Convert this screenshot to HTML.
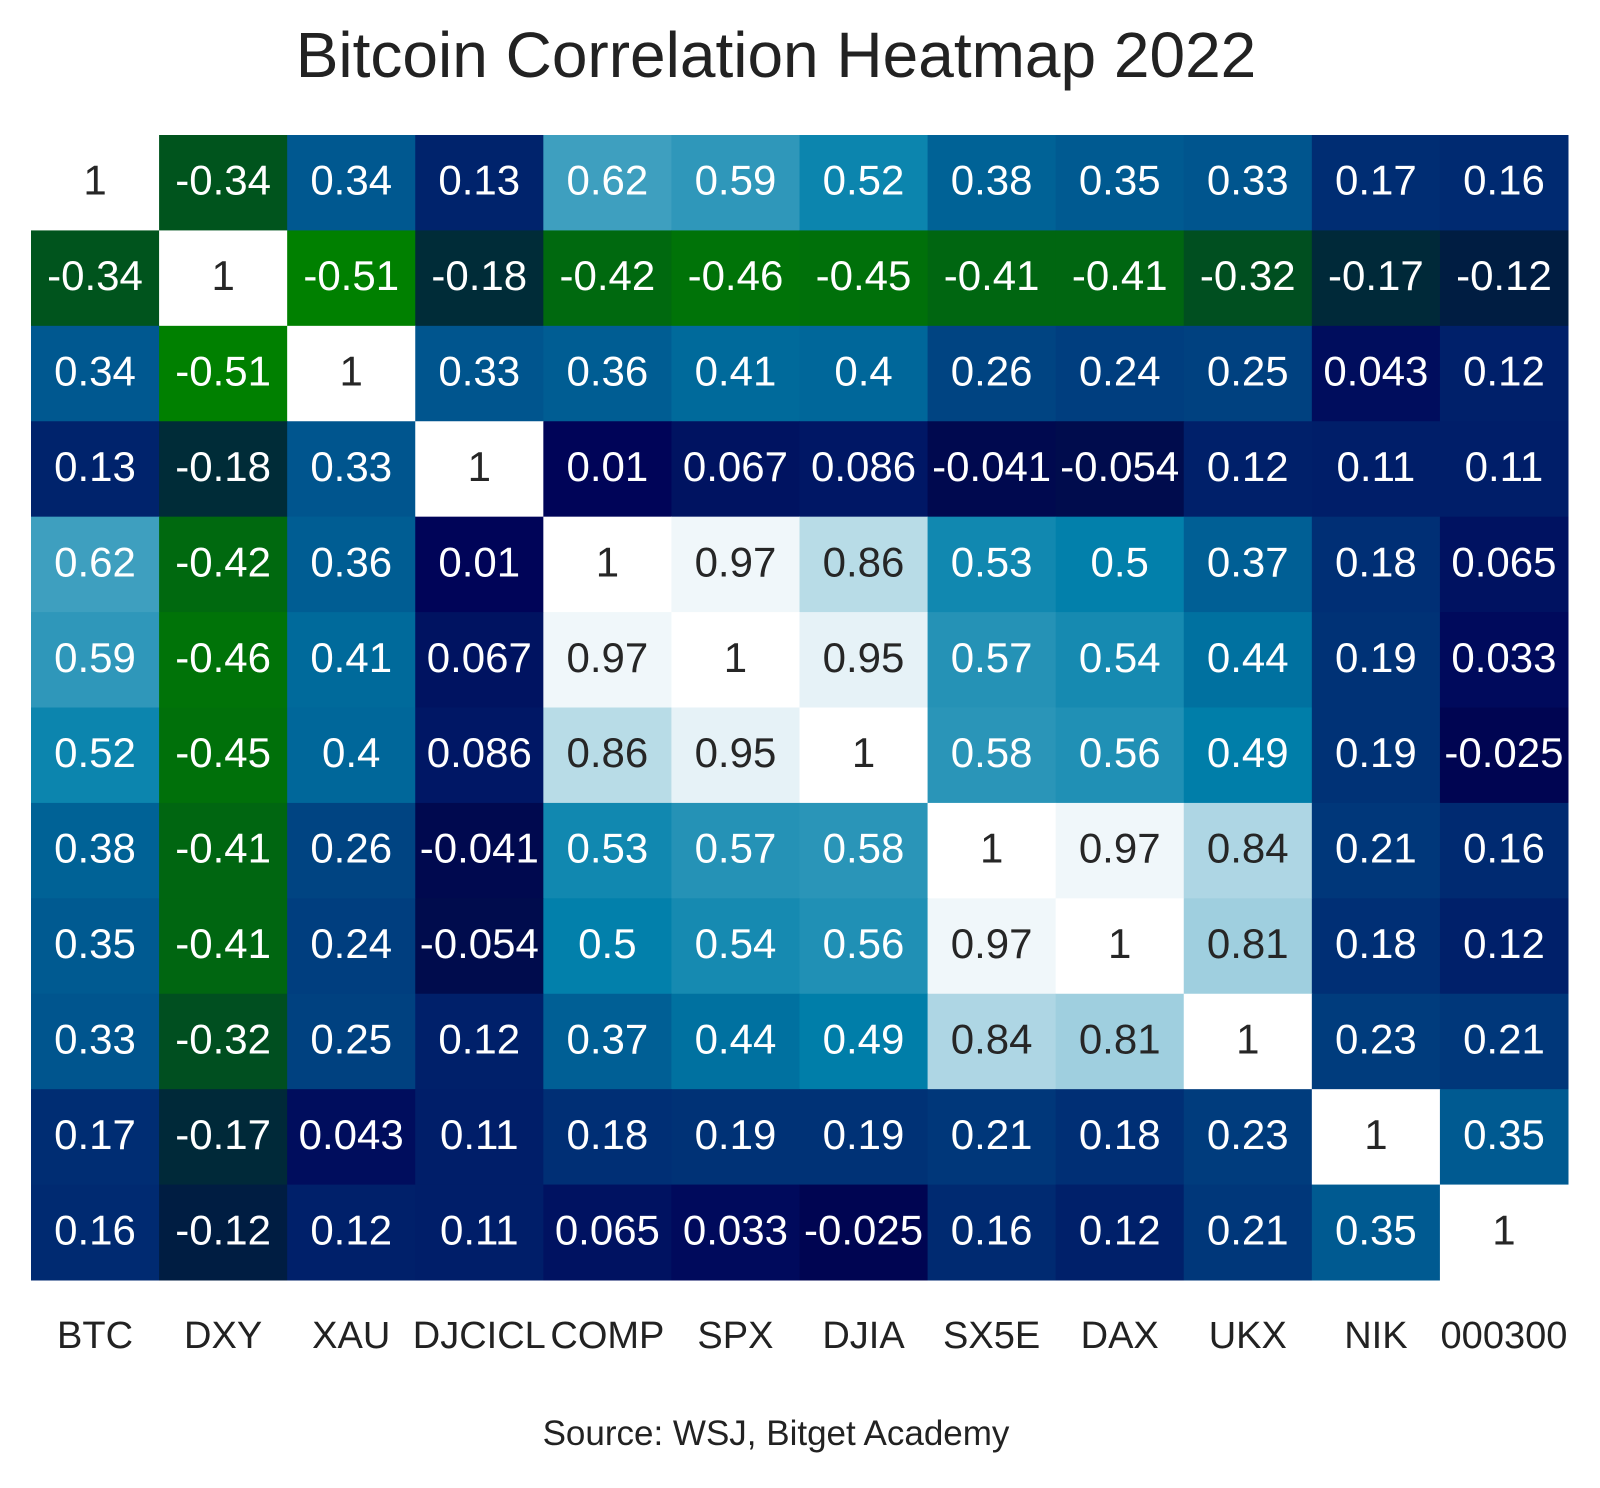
<!DOCTYPE html>
<html><head><meta charset="utf-8"><style>
html,body{margin:0;padding:0;background:#fff;}
svg text{font-family:"Liberation Sans",Arial,sans-serif;}
</style></head><body>
<svg id="chart" width="1600" height="1483" viewBox="0 0 1600 1483" xmlns="http://www.w3.org/2000/svg">
<text x="776" y="77" font-size="64" text-anchor="middle" fill="#222">Bitcoin Correlation Heatmap 2022</text>
<g id="cells"></g>
<g id="xlabels"></g>
<text x="776" y="1445" font-size="35" text-anchor="middle" fill="#222">Source: WSJ, Bitget Academy</text>
</svg>
<script>
const labels = ["BTC","DXY","XAU","DJCICL","COMP","SPX","DJIA","SX5E","DAX","UKX","NIK","000300"];
const row0 = [1,-0.34,0.34,0.13,0.62,0.59,0.52,0.38,0.35,0.33,0.17,0.16];
const row1 = [-0.34,1,-0.51,-0.18,-0.42,-0.46,-0.45,-0.41,-0.41,-0.32,-0.17,-0.12];
const row2 = [0.34,-0.51,1,0.33,0.36,0.41,0.4,0.26,0.24,0.25,0.043,0.12];
const row3 = [0.13,-0.18,0.33,1,0.01,0.067,0.086,-0.041,-0.054,0.12,0.11,0.11];
const row4 = [0.62,-0.42,0.36,0.01,1,0.97,0.86,0.53,0.5,0.37,0.18,0.065];
const row5 = [0.59,-0.46,0.41,0.067,0.97,1,0.95,0.57,0.54,0.44,0.19,0.033];
const row6 = [0.52,-0.45,0.4,0.086,0.86,0.95,1,0.58,0.56,0.49,0.19,-0.025];
const row7 = [0.38,-0.41,0.26,-0.041,0.53,0.57,0.58,1,0.97,0.84,0.21,0.16];
const row8 = [0.35,-0.41,0.24,-0.054,0.5,0.54,0.56,0.97,1,0.81,0.18,0.12];
const row9 = [0.33,-0.32,0.25,0.12,0.37,0.44,0.49,0.84,0.81,1,0.23,0.21];
const row10 = [0.17,-0.17,0.043,0.11,0.18,0.19,0.19,0.21,0.18,0.23,1,0.35];
const row11 = [0.16,-0.12,0.12,0.11,0.065,0.033,-0.025,0.16,0.12,0.21,0.35,1];
const matrix = [row0,row1,row2,row3,row4,row5,row6,row7,row8,row9,row10,row11];
const vmin = -0.51, vmax = 1;

const L = 31, T = 135, W = 1537, H = 1145;
const cw = W / labels.length, ch = H / matrix.length;
const xPos = i => L + i * cw;
const yPos = j => T + j * ch;
function ocean(v){
  let x = Math.max(0, Math.min(1, (v - vmin) / (vmax - vmin)));
  const cl = t => Math.max(0, Math.min(1, t));
  return [cl(3*x-2), cl(Math.abs((3*x-1)/2)), cl(x)];
}
function lum(c){
  const f = t => t <= 0.03928 ? t/12.92 : Math.pow((t+0.055)/1.055, 2.4);
  return 0.2126*f(c[0]) + 0.7152*f(c[1]) + 0.0722*f(c[2]);
}
const NS = "http://www.w3.org/2000/svg";
const cells = document.getElementById('cells');
matrix.forEach((row, j) => {
  row.forEach((v, i) => {
    const c = ocean(v);
    const r = document.createElementNS(NS, 'rect');
    
    
    r.setAttribute('x', xPos(i)); r.setAttribute('y', yPos(j));
    r.setAttribute('width', cw + 0.5); r.setAttribute('height', ch + 0.5);
    r.setAttribute('fill', `rgb(${Math.round(c[0]*255)},${Math.round(c[1]*255)},${Math.round(c[2]*255)})`);
    cells.appendChild(r);
    const t = document.createElementNS(NS, 'text');
    
    
    t.setAttribute('x', xPos(i) + cw/2); t.setAttribute('y', yPos(j) + ch/2 + 12);
    t.setAttribute('font-size', '42'); t.setAttribute('text-anchor', 'middle');
    t.setAttribute('fill', lum(c) > 0.408 ? '#262626' : '#ffffff');
    t.textContent = String(v);
    cells.appendChild(t);
  });
});
const xl = document.getElementById('xlabels');
labels.forEach((s, i) => {
  const t = document.createElementNS(NS, 'text');
  
  
  t.setAttribute('x', xPos(i) + cw/2); t.setAttribute('y', 1348);
  t.setAttribute('font-size', '38'); t.setAttribute('text-anchor', 'middle');
  t.setAttribute('fill', '#222');
  t.textContent = s;
  xl.appendChild(t);
});
</script>
</body></html>
